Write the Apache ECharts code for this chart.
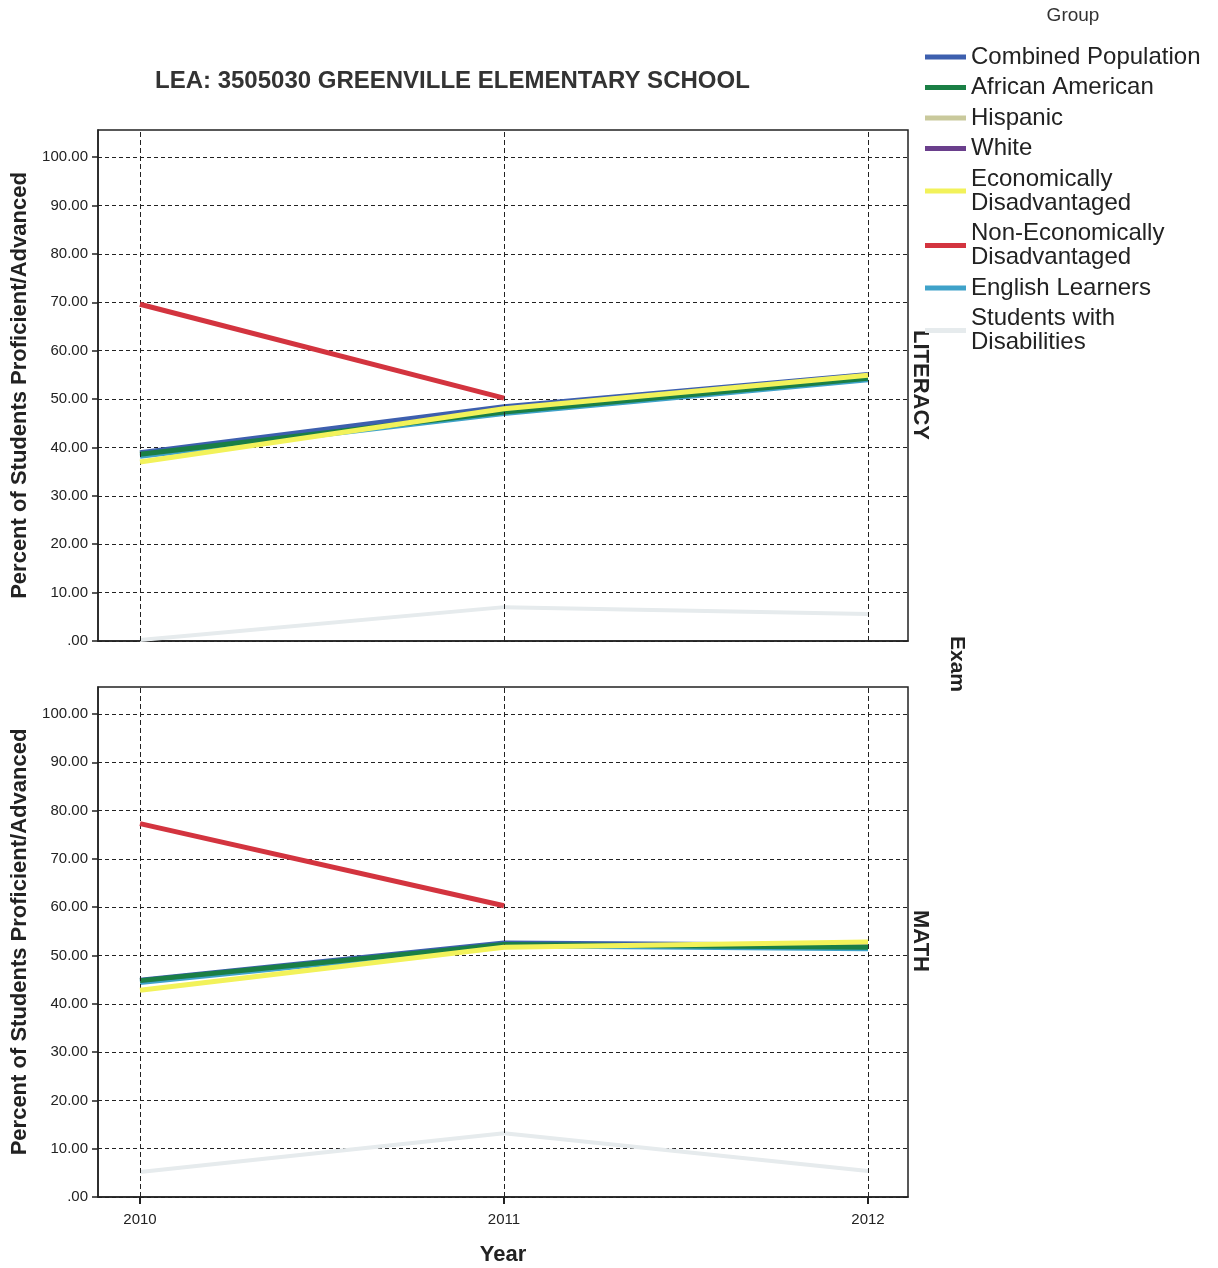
<!DOCTYPE html>
<html><head><meta charset="utf-8">
<script src="https://cdn.jsdelivr.net/npm/echarts@6/dist/echarts.min.js"></script>
<style>html,body{margin:0;padding:0;background:#fff}#c{width:1218px;height:1268px}</style>
</head><body><div id="c"></div>
<script>
const years = [2010, 2011, 2012];
const yTicks = [0, 10, 20, 30, 40, 50, 60, 70, 80, 90, 100];
const groups = ["Combined Population","African American","Hispanic","White","Economically Disadvantaged","Non-Economically Disadvantaged","English Learners","Students with Disabilities"];
const groupLabels = ["Combined Population","African American","Hispanic","White","Economically\nDisadvantaged","Non-Economically\nDisadvantaged","English Learners","Students with\nDisabilities"];
const colors = ["#3d5fae","#1a7f45","#c9c99c","#6a3f8c","#f2f25a","#d3343f","#3fa2c9","#e6ebed"];

// LITERACY values
const litCombined = [38.9, 48.4, 55.1];
const litAfrican  = [38.6, 47.3, 54.3];
const litHispanic = [null, null, null];
const litWhite    = [null, null, null];
const litEcon     = [37.0, 48.0, 54.9];
const litNonEcon  = [69.6, 50.2, null];
const litEL       = [38.2, 47.0, 54.0];
const litSWD      = [0.2, 7.0, 5.6];

// MATH values
const mathCombined = [44.9, 52.6, 52.1];
const mathAfrican  = [44.8, 52.3, 51.7];
const mathHispanic = [null, null, null];
const mathWhite    = [null, null, null];
const mathEcon     = [42.8, 51.7, 52.8];
const mathNonEcon  = [77.3, 60.3, null];
const mathEL       = [44.4, 52.0, 51.4];
const mathSWD      = [5.2, 13.2, 5.4];

const litData = [litCombined, litAfrican, litHispanic, litWhite, litEcon, litNonEcon, litEL, litSWD];
const mathData = [mathCombined, mathAfrican, mathHispanic, mathWhite, mathEcon, mathNonEcon, mathEL, mathSWD];
const zOrder = [3, 4, 3, 3, 5, 6, 2, 2];

const xMin = 2010 - 42/364, xMax = 2012 + 40/364;
const yMax = 105.6;
const FF = 'Liberation Sans, Arial';

function xAxisFor(gi, showLabels) {
  return {
    type: 'value', gridIndex: gi, min: xMin, max: xMax,
    axisLine: { show: true, lineStyle: { color: '#222', width: 1.5 } },
    axisTick: { show: showLabels, customValues: years, length: 7, lineStyle: { color: '#222', width: 2 } },
    axisLabel: { show: showLabels, customValues: years, color: '#222', fontSize: 15, fontFamily: FF, margin: 15, formatter: v => String(v) },
    splitLine: { show: false },
    name: showLabels ? 'Year' : '', nameLocation: 'middle', nameGap: 47,
    nameTextStyle: { fontSize: 22, fontWeight: 'bold', color: '#222', fontFamily: FF }
  };
}
function yAxisFor(gi) {
  return {
    type: 'value', gridIndex: gi, min: 0, max: yMax, interval: 10,
    axisLine: { show: true, lineStyle: { color: '#222', width: 1.5 } },
    axisTick: { show: true, customValues: yTicks, length: 6, lineStyle: { color: '#222', width: 1.5 } },
    axisLabel: { customValues: yTicks, color: '#222', fontSize: 15, fontFamily: FF, margin: 10,
      formatter: v => v === 0 ? '.00' : Number(v).toFixed(2) },
    splitLine: { show: true, lineStyle: { color: '#222', type: [4, 3], width: 1 } },
    name: 'Percent of Students Proficient/Advanced', nameLocation: 'middle', nameGap: 66,
    nameTextStyle: { fontSize: 22, fontWeight: 'bold', color: '#222', fontFamily: FF }
  };
}

const series = [];
[litData, mathData].forEach((dataset, gi) => {
  dataset.forEach((vals, si) => {
    series.push({
      name: groups[si], type: 'line', xAxisIndex: gi, yAxisIndex: gi,
      data: years.map((y, i) => [y, vals[i]]),
      showSymbol: false, symbol: 'none', connectNulls: false,
      lineStyle: { color: colors[si], width: si === 7 ? 4 : 5 },
      itemStyle: { color: colors[si] },
      z: zOrder[si], animation: false
    });
  });
  series.push({
    type: 'line', xAxisIndex: gi, yAxisIndex: gi, data: [], silent: true,
    markLine: {
      silent: true, symbol: 'none', label: { show: false }, animation: false,
      lineStyle: { color: '#222', type: [5, 3], width: 1 },
      data: years.map(y => ({ xAxis: y }))
    }, z: 1
  });
});

const chart = echarts.init(document.getElementById('c'), null, { renderer: 'canvas' });
chart.setOption({
  animation: false,
  backgroundColor: '#fff',
  textStyle: { fontFamily: FF },
  title: {
    text: 'LEA: 3505030 GREENVILLE ELEMENTARY SCHOOL', left: 150, top: 64,
    textStyle: { fontSize: 24, fontWeight: 'bold', color: '#333', fontFamily: FF }
  },
  legend: {
    data: groups, orient: 'vertical', left: 920, top: 40, itemGap: 6.5,
    itemWidth: 41, itemHeight: 5, icon: 'rect',
    formatter: n => groupLabels[groups.indexOf(n)],
    textStyle: { fontSize: 24, lineHeight: 24, color: '#222', fontFamily: FF },
    selectedMode: false
  },
  grid: [
    { left: 98, top: 130, width: 810, height: 511, show: true, borderColor: '#222', borderWidth: 1.5, backgroundColor: '#fff', outerBoundsMode: 'none', containLabel: false },
    { left: 98, top: 687, width: 810, height: 510, show: true, borderColor: '#222', borderWidth: 1.5, backgroundColor: '#fff', outerBoundsMode: 'none', containLabel: false }
  ],
  xAxis: [xAxisFor(0, false), xAxisFor(1, true)],
  yAxis: [yAxisFor(0), yAxisFor(1)],
  series: series,
  graphic: [
    { type: 'text', x: 1073, y: 16, style: { text: 'Group', fontSize: 19, fill: '#333', align: 'center', verticalAlign: 'middle', fontFamily: FF } },
    { type: 'text', x: 920, y: 385, rotation: -Math.PI / 2, style: { text: 'LITERACY', fontSize: 22, fontWeight: 'bold', fill: '#222', align: 'center', verticalAlign: 'middle', fontFamily: FF } },
    { type: 'text', x: 920, y: 941, rotation: -Math.PI / 2, style: { text: 'MATH', fontSize: 22, fontWeight: 'bold', fill: '#222', align: 'center', verticalAlign: 'middle', fontFamily: FF } },
    { type: 'text', x: 957, y: 664, rotation: -Math.PI / 2, style: { text: 'Exam', fontSize: 21, fontWeight: 'bold', fill: '#222', align: 'center', verticalAlign: 'middle', fontFamily: FF } }
  ]
});
</script></body></html>
